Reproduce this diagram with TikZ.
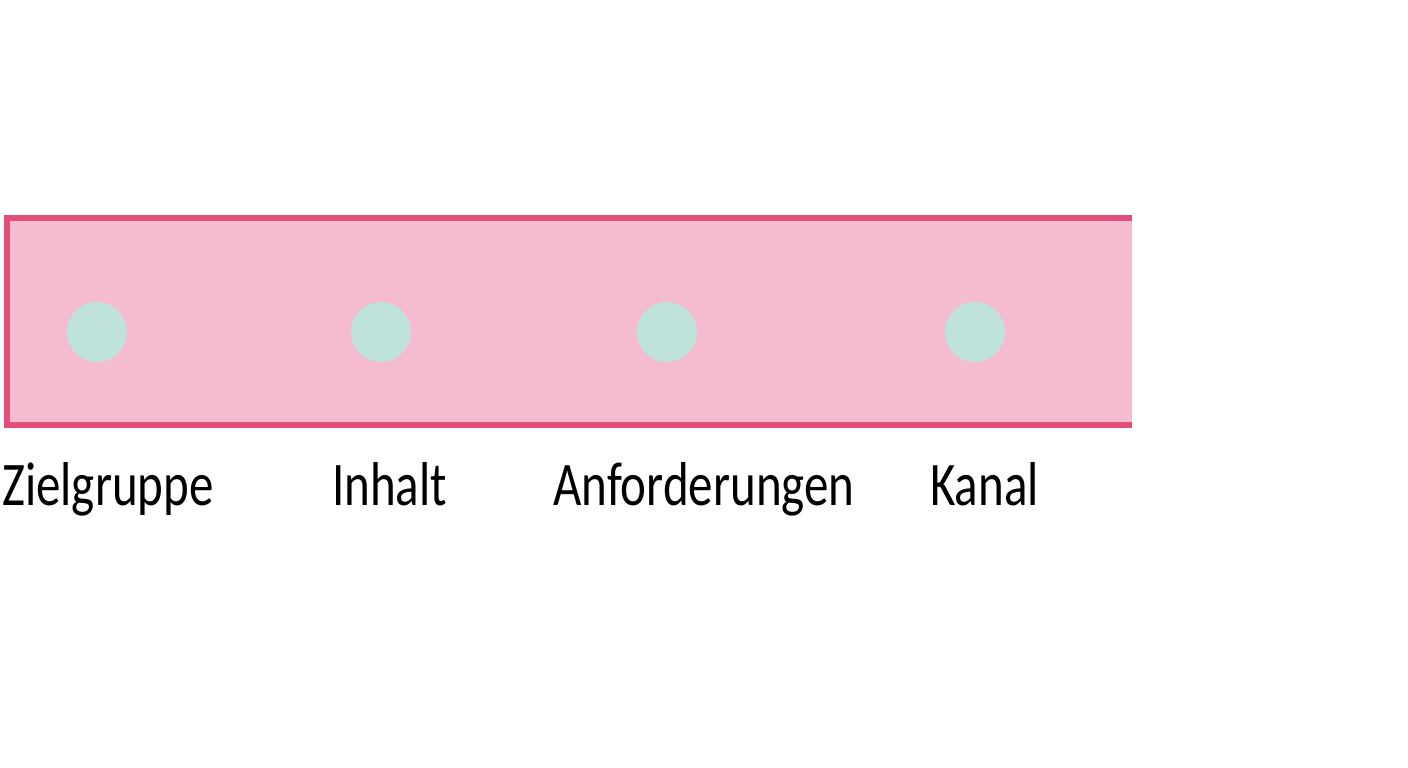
\documentclass[tikz,border=0pt]{standalone}
\usepackage{fontspec}
\setmainfont{Carlito}[FakeStretch=0.79]
\definecolor{bandfill}{HTML}{F5BBCE}
\definecolor{bandline}{HTML}{E24F7A}
\definecolor{dotfill}{HTML}{BFE3DC}
\begin{document}
\begin{tikzpicture}[x=1pt,y=-1pt,
  dot/.style={circle,fill=dotfill,minimum size=60pt,inner sep=0pt},
  lbl/.style={anchor=base west,inner sep=0pt,font=\fontsize{62}{70}\selectfont,text=black}]
\useasboundingbox (0,0) rectangle (1408,768);
\fill[bandfill] (4,218) rectangle (1132,425);
\draw[bandline,line width=6pt] (1132,218) -- (7,218) -- (7,425) -- (1132,425);
\node[dot] (d1) at (97,332) {};
\node[dot] (d2) at (381,332) {};
\node[dot] (d3) at (667,332) {};
\node[dot] (d4) at (975,332) {};
\node[lbl] (l1) at (2,505) {Zielgruppe};
\node[lbl] (l2) at (332,505) {Inhalt};
\node[lbl] (l3) at (553,505) {Anforderungen};
\node[lbl] (l4) at (930,505) {Kanal};
\end{tikzpicture}
\end{document}
